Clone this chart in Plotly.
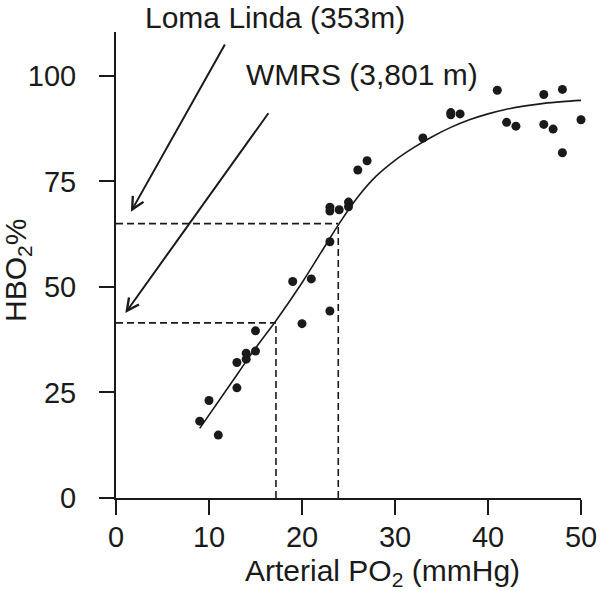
import plotly.graph_objects as go

# Observed data points (Arterial PO2 mmHg, HbO2 %)
po2 = [9, 10, 11, 13, 13, 14, 14, 15, 15, 19, 20, 21, 23, 23, 23, 23, 24, 25, 25,
       26, 27, 33, 36, 36, 37, 41, 42, 43, 46, 46, 47, 48, 48, 50]
hbo2 = [18.2, 23.1, 14.9, 26.1, 32.1, 32.9, 34.3, 34.8, 39.6, 51.3, 41.3, 51.9, 44.3,
        60.7, 68.0, 68.9, 68.3, 69.0, 70.1, 77.7, 79.9, 85.3, 91.3, 90.8, 91.0, 96.6,
        89.0, 88.1, 95.6, 88.5, 87.4, 96.8, 81.8, 89.6]

# Fitted curve
curve_x = [9, 12, 15, 17.2, 20, 22, 24, 26, 28, 30, 32, 34, 36, 38, 40, 42, 44, 46, 48, 50]
curve_y = [16.5, 26, 35.5, 42, 51, 58, 65, 71.3, 76.3, 80, 83, 85.6, 87.8, 89.6, 91.0,
           92.1, 92.9, 93.5, 93.9, 94.2]

# Reference altitudes: (PO2, HbO2)
loma_linda = (23.9, 65.0)
wmrs = (17.2, 41.5)

x_ticks = [0, 10, 20, 30, 40, 50]
y_ticks = [0, 25, 50, 75, 100]

INK = "#1a1a1a"
FONT = "Liberation Sans, Arial, sans-serif"

L, R, T, B = 116, 19, 32, 93
W, H = 600, 591
PW, PH = W - L - R, H - T - B


def paper_x(px):
    return (px - L) / PW


def paper_y(py):
    return (H - B - py) / PH


fig = go.Figure()

fig.add_trace(go.Scatter(x=curve_x, y=curve_y, mode="lines", line_shape="spline",
                         line=dict(color=INK, width=1.6), hoverinfo="skip"))
fig.add_trace(go.Scatter(x=po2, y=hbo2, mode="markers", cliponaxis=False,
                         marker=dict(color=INK, size=9)))

dash = dict(color=INK, width=1.6, dash="7px,4px")
for px, py in (loma_linda, wmrs):
    fig.add_shape(type="line", x0=0, x1=px, y0=py, y1=py, xref="x", yref="y", line=dash)
    fig.add_shape(type="line", x0=px, x1=px, y0=0, y1=py, xref="x", yref="y", line=dash)

# Arrows
fig.add_annotation(x=1.6, y=67.8, ax=11.8, ay=107.8, xref="x", yref="y",
                   axref="x", ayref="y", text="", showarrow=True, arrowhead=5,
                   arrowsize=1.2, arrowwidth=2, arrowcolor=INK)
fig.add_annotation(x=1.0, y=43.8, ax=16.5, ay=91.5, xref="x", yref="y",
                   axref="x", ayref="y", text="", showarrow=True, arrowhead=5,
                   arrowsize=1.2, arrowwidth=2, arrowcolor=INK)

fig.add_annotation(x=paper_x(275), y=paper_y(0), xref="paper", yref="paper",
                   xanchor="center", yanchor="top", borderpad=0,
                   text="Loma Linda (353m)", showarrow=False,
                   font=dict(family=FONT, size=30, color=INK))
fig.add_annotation(x=paper_x(362), y=paper_y(75), xref="paper", yref="paper",
                   xanchor="center", yanchor="middle",
                   text="WMRS (3,801 m)", showarrow=False,
                   font=dict(family=FONT, size=30, color=INK))

# Axis titles
fig.add_annotation(x=paper_x(382), y=paper_y(572), xref="paper", yref="paper",
                   xanchor="center", yanchor="middle",
                   text="Arterial PO<sub>2</sub> (mmHg)", showarrow=False,
                   font=dict(family=FONT, size=30, color=INK))
fig.add_annotation(x=paper_x(17), y=paper_y(271), xref="paper", yref="paper",
                   xanchor="center", yanchor="middle",
                   text="HBO<sub>2</sub>%", textangle=-90, showarrow=False,
                   font=dict(family=FONT, size=30, color=INK))

axis_common = dict(showline=True, linecolor=INK, linewidth=2, ticks="outside",
                   ticklen=15, tickwidth=2, tickcolor=INK, showgrid=False,
                   zeroline=False, automargin=False,
                   tickfont=dict(family=FONT, size=29, color=INK))

fig.update_xaxes(range=[0, 50], tickvals=x_ticks, ticklabelstandoff=-3, **axis_common)
fig.update_yaxes(range=[0, 110.4], tickvals=y_ticks, ticklabelstandoff=17, **axis_common)

fig.update_layout(width=W, height=H, showlegend=False,
                  plot_bgcolor="white", paper_bgcolor="white",
                  margin=dict(l=L, r=R, t=T, b=B, autoexpand=False),
                  font=dict(family=FONT, color=INK))

fig.write_html("out.html", config={"displayModeBar": False},
               post_script="document.body.style.margin='0';document.body.style.overflow='hidden';")
